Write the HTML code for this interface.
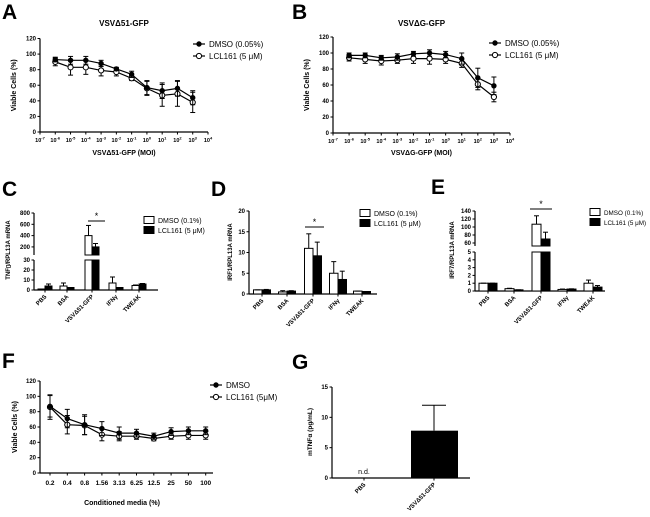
<!DOCTYPE html>
<html><head><meta charset="utf-8"><style>
html,body{margin:0;padding:0;background:#fff}
svg{display:block;font-family:"Liberation Sans",sans-serif}
</style></head><body>
<svg id="fig" width="650" height="517" viewBox="0 0 650 517"></svg>
<script>
// ---- Data ----
const aDmso=[93,92,92,88,81,74,57,53,56,44];
const aDmsoErr=[3,5,5,4,2,4,9,10,10,9];
const aLcl=[90,83,83,79,77,69,56,47,49,38];
const aLclErr=[5,10,9,7,5,3,9,14,16,13];
const bDmso=[97,97,94,95,99,100,98,93,69,59];
const bDmsoErr=[3,3,3,4,3,4,4,7,12,11];
const bLcl=[94,92,90,91,93,93,92,87,61,45];
const bLclErr=[4,5,5,4,6,7,5,5,7,6];
const logTicks=[-7,-6,-5,-4,-3,-2,-1,0,1,2,3,4];
const abExps=[-6,-5,-4,-3,-2,-1,0,1,2,3];
const viableTicks=[0,20,40,60,80,100,120];
const barCats=["PBS","BSA","VSV\u039451-GFP","IFN\u03b3","TWEAK"];
const cWhite=[1,4,400,7,4.5];const cWhiteErr=[1,7,580,13,5];
const cBlack=[4,2.5,200,2.5,6];const cBlackErr=[6,2.5,260,2.5,6.5];
const dWhite=[1,0.5,11,5,0.7];const dWhiteErr=[1,0.8,14.5,7.8,0.7];
const dBlack=[1,0.7,9.2,3.5,0.6];const dBlackErr=[1.1,0.8,12.5,5.5,0.6];
const eWhite=[1,0.3,107,0.2,1];const eWhiteErr=[1,0.35,128,0.25,1.4];
const eBlack=[1,0.15,70,0.25,0.5];const eBlackErr=[1,0.15,87,0.28,0.7];
const fCats=["0.2","0.4","0.8","1.56","3.13","6.25","12.5","25","50","100"];
const fDmso=[87,71,63,58,52,52,48,54,55,55];
const fDmsoErr=[14,12,13,9,8,5,4,5,5,5];
const fLcl=[86,63,62,50,48,48,45,48,49,49];
const fLclErr=[16,12,12,8,6,4,3,4,5,5];
const gCats=["PBS","VSV\u039451-GFP"];
const gVals=[0,7.8];const gErr=[0,12];
const gTicks=[0,5,10,15];

const NS="http://www.w3.org/2000/svg";
const svg=document.getElementById('fig');
function mk(tag,attrs,name,parent){
  const el=document.createElementNS(NS,tag);
  for(const k in attrs)el.setAttribute(k,attrs[k]);
  
  
  (parent||svg).appendChild(el);return el;
}
function ln(x1,y1,x2,y2,name,w){return mk('line',{x1,y1,x2,y2,stroke:'#000','stroke-width':w||1},name);}
function tx(x,y,s,name,o){o=o||{};const t=mk('text',{x,y,'font-size':o.fs||6,'font-weight':o.fw||'bold','text-anchor':o.a||'middle',fill:'#000'},name);
  if(o.rot!==undefined)t.setAttribute('transform','rotate('+o.rot+' '+x+' '+y+')');t.textContent=s;return t;}

function letter(x,y,s){tx(x,y,s,'panel-label-'+s.toLowerCase(),{fs:21,a:'start'});}

function yAxis(x,y0,y1,ticks,fy,name){
  ln(x,y0,x,y1,name+'-line',1.2);
  ticks.forEach(t=>{const y=fy(t);ln(x-2.5,y,x,y,name+'-tick');tx(x-4,y+2,String(t),name+'-tick-label',{a:'end'});});
}
function lineSeries(xs,vals,errs,fy,filled,name){
  let d='';vals.forEach((v,i)=>{d+=(i?'L':'M')+xs[i]+' '+fy(v);});
  mk('path',{d,fill:'none',stroke:'#000','stroke-width':1.2},name+'-line');
  vals.forEach((v,i)=>{const x=xs[i],y=fy(v),yt=fy(v+errs[i]),yb=fy(v-errs[i]);
    ln(x,yt,x,yb,name+'-error-bar');ln(x-2.5,yt,x+2.5,yt,name+'-error-cap');ln(x-2.5,yb,x+2.5,yb,name+'-error-cap');
    mk('circle',{cx:x,cy:y,r:filled?2.2:2.6,fill:filled?'#000':'#fff',stroke:'#000','stroke-width':1},name+'-point');});
}
function legendLine(x,y,label,filled,name){
  ln(x,y,x+12,y,name+'-line',1.2);
  mk('circle',{cx:x+6,cy:y,r:filled?2.2:2.6,fill:filled?'#000':'#fff',stroke:'#000'},name+'-marker');
  tx(x+16,y+3,label,name+'-text',{fs:8,fw:'normal',a:'start'});
}
function legendBox(x,y,label,black,name,fs){
  mk('rect',{x,y:y-3.5,width:10,height:7,fill:black?'#000':'#fff',stroke:'#000'},name+'-swatch');
  tx(x+14,y+3,label,name+'-text',{fs:fs||7,fw:'normal',a:'start'});
}

// ---- Panel A & B ----
function logPanel(ox,axX,axEnd,y0,yTop,title,xlabel,d,de,l,le,pfx){
  const fy=v=>y0-(v/120)*(y0-yTop);
  const fx=e=>axX+(e+7)*(axEnd-axX)/11;
  yAxis(axX,y0,yTop,viableTicks,fy,pfx+'-y-axis');
  ln(axX,y0,axEnd,y0,pfx+'-x-axis-line',1.2);
  logTicks.forEach(e=>{const x=fx(e);ln(x,y0,x,y0+2.5,pfx+'-x-tick');
    const t=tx(x,y0+10,'10',pfx+'-x-tick-label',{fs:5.5});
    const s=mk('tspan',{dy:-2.5,'font-size':4},pfx+'-x-tick-exp',t);s.textContent=String(e);});
  const xs=abExps.map(fx);
  lineSeries(xs,l,le,fy,false,pfx+'-lcl161');
  lineSeries(xs,d,de,fy,true,pfx+'-dmso');
  tx((axX+axEnd)/2,26,title,pfx+'-title',{fs:8});
  tx((axX+axEnd)/2,155,xlabel,pfx+'-x-axis-title',{fs:7});
  tx(axX-24,(y0+yTop)/2,'Viable Cells (%)',pfx+'-y-axis-title',{fs:7,rot:-90});
}
letter(2,19,'A');letter(292,19,'B');
logPanel(0,40,208,132,38.5,'VSV\u039451-GFP','VSV\u039451-GFP (MOI)',aDmso,aDmsoErr,aLcl,aLclErr,'panel-a');
legendLine(193,44,'DMSO (0.05%)',true,'panel-a-legend-dmso');
legendLine(193,56,'LCL161 (5 \u03bcM)',false,'panel-a-legend-lcl161');
logPanel(325,333,510,133,37,'VSV\u0394G-GFP','VSV\u0394G-GFP (MOI)',bDmso,bDmsoErr,bLcl,bLclErr,'panel-b');
legendLine(489,43,'DMSO (0.05%)',true,'panel-b-legend-dmso');
legendLine(489,55,'LCL161 (5 \u03bcM)',false,'panel-b-legend-lcl161');

// ---- Broken / simple bar panels ----
function barPanel(cfg){
  const p=cfg.pfx,ax=cfg.axX,y0=cfg.y0;
  const segs=cfg.segs;
  const fy=v=>{for(const s of segs){if(v<=s.hi||s===segs[segs.length-1]){const vv=Math.max(v,s.lo);return s.yLo-(vv-s.lo)*(s.yLo-s.yHi)/(s.hi-s.lo);}}};
  segs.forEach((s,i)=>{ln(ax,s.yLo+(i?3:0),ax,s.yHi,p+'-y-axis-line',1.2);
    s.ticks.forEach(t=>{const y=s.yLo-(t-s.lo)*(s.yLo-s.yHi)/(s.hi-s.lo);ln(ax-2.5,y,ax,y,p+'-y-tick');tx(ax-4,y+2,String(t),p+'-y-tick-label',{a:'end'});});});
  ln(ax,y0,cfg.axEnd,y0,p+'-x-axis-line',1.2);
  const bw=cfg.bw;
  function drawBar(x,v,e,black,name){
    if(segs.length>1&&v>segs[0].hi){
      const s0=segs[0],s1=segs[1];
      mk('rect',{x,y:s0.yHi,width:bw,height:y0-s0.yHi,fill:black?'#000':'#fff',stroke:'#000'},name);
      const top=fy(v);mk('rect',{x,y:top,width:bw,height:s1.yLo+3-top,fill:black?'#000':'#fff',stroke:'#000'},name);
    }else{const top=fy(v);mk('rect',{x,y:top,width:bw,height:y0-top,fill:black?'#000':'#fff',stroke:'#000'},name);}
    const yt=fy(e),xc=x+bw/2;ln(xc,yt,xc,fy(v),name+'-error-bar');ln(xc-2.5,yt,xc+2.5,yt,name+'-error-cap');
  }
  cfg.cx.forEach((c,i)=>{
    drawBar(c-bw,cfg.w[i],cfg.we[i],false,p+'-bar-dmso');
    drawBar(c,cfg.b[i],cfg.be[i],true,p+'-bar-lcl161');
    ln(c,y0,c,y0+2.5,p+'-x-tick');
    tx(c+2,y0+7,barCats[i],p+'-x-tick-label',{a:'end',rot:-45});
  });
  const st=cfg.star;ln(st[0],st[2],st[1],st[2],p+'-significance-line');tx((st[0]+st[1])/2,st[2]-2,'*',p+'-significance-star',{fs:9,fw:'normal'});
  tx(cfg.ylx,cfg.yly,cfg.ylabel,p+'-y-axis-title',{fs:6,rot:-90});
  legendBox(cfg.lx,cfg.ly,'DMSO (0.1%)',false,p+'-legend-dmso',cfg.lfs);
  legendBox(cfg.lx,cfg.ly+10,'LCL161 (5 \u03bcM)',true,p+'-legend-lcl161',cfg.lfs);
}
letter(2,196,'C');letter(211,196,'D');letter(431,194,'E');
barPanel({pfx:'panel-c',axX:34,axEnd:158,y0:290,bw:7,cx:[45,67,92,116,139],
  segs:[{lo:0,hi:30,yLo:290,yHi:260,ticks:[0,10,20,30]},{lo:110,hi:800,yLo:252,yHi:213,ticks:[200,400,600,800]}],
  w:cWhite,we:cWhiteErr,b:cBlack,be:cBlackErr,star:[88,105,221],ylabel:'TNF\u25af/RPL13A mRNA',ylx:10,yly:250,lx:144,ly:220});
barPanel({pfx:'panel-d',axX:249,axEnd:377,y0:294,bw:8.5,cx:[262,287,313,338,362],
  segs:[{lo:0,hi:20,yLo:294,yHi:211,ticks:[0,5,10,15,20]}],
  w:dWhite,we:dWhiteErr,b:dBlack,be:dBlackErr,star:[305,324,227],ylabel:'IRF1/RPL13A mRNA',ylx:232,yly:252,lx:360,ly:213});
barPanel({pfx:'panel-e',axX:475,axEnd:605,y0:291,bw:9,cx:[488,514,541,567,593],
  segs:[{lo:0,hi:5,yLo:291,yHi:252,ticks:[0,1,2,3,4,5]},{lo:60,hi:140,yLo:243,yHi:211,ticks:[60,80,100,120,140]}],
  w:eWhite,we:eWhiteErr,b:eBlack,be:eBlackErr,star:[530,552,209],ylabel:'IRF7/RPL13A mRNA',ylx:454,yly:250,lx:590,ly:212,lfs:6.3});

// ---- Panel F ----
letter(2,368,'F');
(function(){
  const ax=40,y0=473,yTop=381,fy=v=>y0-(v/120)*(y0-yTop);
  const fx=i=>50+i*17.3;
  yAxis(ax,y0,yTop,viableTicks,fy,'panel-f-y-axis');
  ln(ax,y0,213,y0,'panel-f-x-axis-line',1.2);
  const xs=fCats.map((c,i)=>fx(i));
  fCats.forEach((c,i)=>{ln(xs[i],y0,xs[i],y0+2.5,'panel-f-x-tick');tx(xs[i],y0+12,c,'panel-f-x-tick-label',{fs:6.5});});
  lineSeries(xs,fLcl,fLclErr,fy,false,'panel-f-lcl161');
  lineSeries(xs,fDmso,fDmsoErr,fy,true,'panel-f-dmso');
  tx(122,505,'Conditioned media (%)','panel-f-x-axis-title',{fs:7});
  tx(17,427,'Viable Cells (%)','panel-f-y-axis-title',{fs:7,rot:-90});
  legendLine(210,385,'DMSO',true,'panel-f-legend-dmso');
  legendLine(210,397,'LCL161 (5\u03bcM)',false,'panel-f-legend-lcl161');
})();

// ---- Panel G ----
letter(292,369,'G');
(function(){
  const ax=332,y0=478,yTop=387,fy=v=>y0-(v/15)*(y0-yTop);
  yAxis(ax,y0,yTop,gTicks,fy,'panel-g-y-axis');
  ln(ax,y0,470,y0,'panel-g-x-axis-line',1.2);
  const cx=[364,434];
  gCats.forEach((c,i)=>{
    ln(cx[i],y0,cx[i],y0+2.5,'panel-g-x-tick');
    tx(cx[i]+2,y0+7,c,'panel-g-x-tick-label',{a:'end',rot:-45});
    if(gVals[i]>0){const top=fy(gVals[i]);
      mk('rect',{x:cx[i]-23,y:top,width:47,height:y0-top,fill:'#000'},'panel-g-bar');
      const yt=fy(gErr[i]);ln(cx[i],yt,cx[i],top,'panel-g-error-bar');ln(cx[i]-12,yt,cx[i]+12,yt,'panel-g-error-cap');}
    else tx(cx[i],y0-4,'n.d.','panel-g-not-detected',{fs:7,fw:'normal'});
  });
  tx(312,432,'mTNF\u03b1 (pg/mL)','panel-g-y-axis-title',{fs:6.5,rot:-90});
})();
</script>
</body></html>
